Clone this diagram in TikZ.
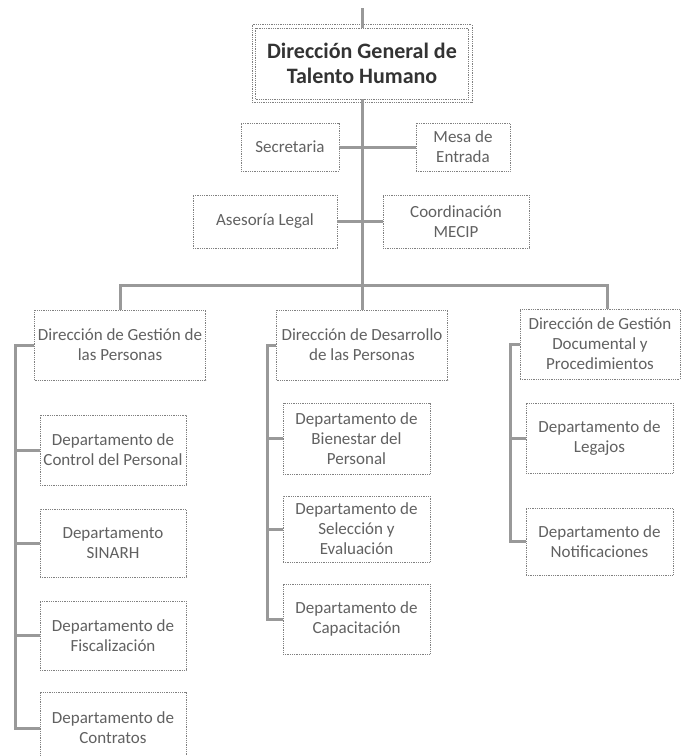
\documentclass[tikz,border=0pt]{standalone}
\usepackage{fontspec}
\setmainfont{Carlito}
\begin{document}
\begin{tikzpicture}[x=1pt,y=-1pt,
  box/.style={draw=black!50, densely dotted, line width=0.8pt, fill=white, text=black!62,
    align=center, inner sep=0pt, font=\fontsize{17}{20}\selectfont},
  conn/.style={draw=black!40, line width=3pt}]
\useasboundingbox (0,0) rectangle (682,756);
\clip (0,0) rectangle (682,756);
% nodes
\node[box, minimum width=213pt, minimum height=71pt, text=black!80,
  font=\fontsize{22}{25}\selectfont\bfseries] (top) at (362,63.5) {Dirección General de\\Talento Humano};
\draw[draw=black!50, densely dotted, line width=0.8pt] ([shift={(-3pt,3pt)}]top.north west) rectangle ([shift={(3pt,-3pt)}]top.south east);
\node[box, minimum width=98pt, minimum height=48pt] (sec) at (290,147) {Secretaria};
\node[box, minimum width=94pt, minimum height=48pt] (mesa) at (463,147) {Mesa de\\Entrada};
\node[box, minimum width=144pt, minimum height=53pt] (ase) at (265,221.5) {Asesoría Legal};
\node[box, minimum width=146pt, minimum height=53pt] (coord) at (456,221.5) {Coordinación\\MECIP};
\node[box, minimum width=171pt, minimum height=70pt] (dgp) at (120,345) {Dirección de Gestión de\\las Personas};
\node[box, minimum width=171pt, minimum height=70pt] (ddp) at (362,345) {Dirección de Desarrollo\\de las Personas};
\node[box, minimum width=160pt, minimum height=70pt] (dgd) at (600,344) {Dirección de Gestión\\Documental y\\Procedimientos};
% left column
\node[box, minimum width=146pt, minimum height=70pt] (ctrl) at (113,450) {Departamento de\\Control del Personal};
\node[box, minimum width=146pt, minimum height=68pt] (sinarh) at (113,543) {Departamento\\SINARH};
\node[box, minimum width=146pt, minimum height=69pt] (fisc) at (113,635.5) {Departamento de\\Fiscalización};
\node[box, minimum width=146pt, minimum height=72pt] (contr) at (113,728) {Departamento de\\Contratos};
% middle column
\node[box, minimum width=147pt, minimum height=71pt] (bien) at (356.5,438.5) {Departamento de\\Bienestar del\\Personal};
\node[box, minimum width=147pt, minimum height=66pt] (sel) at (356.5,529) {Departamento de\\Selección y\\Evaluación};
\node[box, minimum width=147pt, minimum height=70pt] (cap) at (356.5,619) {Departamento de\\Capacitación};
% right column
\node[box, minimum width=147pt, minimum height=70pt] (leg) at (599.5,438) {Departamento de\\Legajos};
\node[box, minimum width=147pt, minimum height=67pt] (notif) at (599.5,541.5) {Departamento de\\Notificaciones};
% coordinates
\coordinate (topend) at (362,8);
\coordinate (hub) at (362,285);
\coordinate (sL) at (15,345);
\coordinate (sM) at (267,345);
\coordinate (sR) at (510,344);
% connectors
\draw[conn] (topend) -- (top.north);
\draw[conn] (top.south) -- (hub);
\draw[conn] (sec.east) -- (mesa.west);
\draw[conn] (ase.east) -- (coord.west);
\draw[conn] (dgp.north) |- (hub) -| (ddp.north);
\draw[conn] (hub) -| ([xshift=7pt]dgd.north);
\draw[conn] (dgp.west) -- (sL) |- (contr.west);
\draw[conn] (ctrl.west) -- (ctrl.west -| sL);
\draw[conn] (sinarh.west) -- (sinarh.west -| sL);
\draw[conn] (fisc.west) -- (fisc.west -| sL);
\draw[conn] (ddp.west) -- (sM) |- (cap.west);
\draw[conn] (bien.west) -- (bien.west -| sM);
\draw[conn] (sel.west) -- (sel.west -| sM);
\draw[conn] (dgd.west) -- (sR) |- (notif.west);
\draw[conn] (leg.west) -- (leg.west -| sR);
\end{tikzpicture}
\end{document}
